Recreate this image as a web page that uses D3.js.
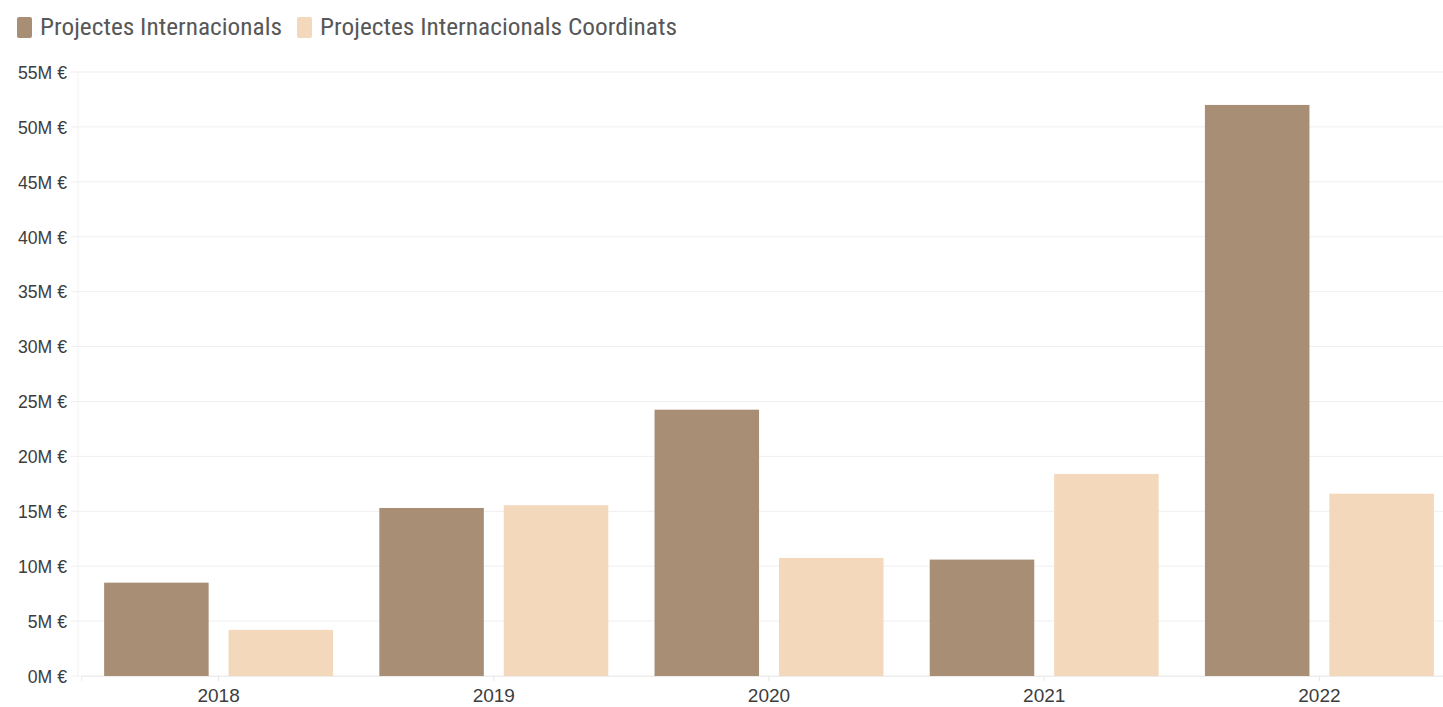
<!DOCTYPE html>
<html><head><meta charset="utf-8">
<script src="https://cdn.jsdelivr.net/npm/d3@7/dist/d3.min.js"></script>
<style>
html,body{margin:0;padding:0;background:#fff;}
svg{display:block;font-family:"Roboto Condensed",Roboto,"Liberation Sans Narrow",sans-serif;}
</style></head>
<body>
<svg id="chart" width="1443" height="707"></svg>
<script>
const years = ["2018","2019","2020","2021","2022"];
const seriesNames = ["Projectes Internacionals","Projectes Internacionals Coordinats"];
const internacionals = [8.5, 15.3, 24.25, 10.6, 52.0];
const coordinats = [4.2, 15.55, 10.75, 18.4, 16.6];
const yTicks = [0,5,10,15,20,25,30,35,40,45,50,55];
const colors = ["#a98e76","#f3d8bc"];

(function(){
const svg = d3.select("#chart");
const mLeft = 78, mRight = 1457, mTop = 72, mBottom = 676;

const x0 = d3.scaleBand().domain(years).range([mLeft+3, mRight]).paddingInner(0.168).paddingOuter(0.084);
const x1 = d3.scaleBand().domain([0,1]).range([0, x0.bandwidth()]).paddingInner(0.16);
const y = d3.scaleLinear().domain([0,55]).range([mBottom, mTop]);

function condense(sel, k){
  sel.each(function(){
    const w = this.getComputedTextLength();
    d3.select(this).attr("textLength", w*k).attr("lengthAdjust","spacingAndGlyphs");
  });
}

// gridlines
svg.append("g").selectAll("line").data(yTicks).join("line")
  .attr("x1", mLeft-7).attr("x2", 1443)
  .attr("y1", d=>y(d)).attr("y2", d=>y(d))
  .attr("stroke", "#efefef").attr("stroke-width", 1);
// faint vertical axis line
svg.append("line").attr("x1", mLeft).attr("x2", mLeft).attr("y1", mTop).attr("y2", mBottom)
  .attr("stroke", "#f2f2f2");

// y axis
const yAxis = svg.append("g").attr("transform", `translate(${mLeft},0)`)
  .call(d3.axisLeft(y).tickValues(yTicks).tickSize(0).tickPadding(11).tickFormat(d=>d+"M €"));
yAxis.select(".domain").remove();
yAxis.selectAll("text").attr("fill","#3d3d3d").style("font-size","19px").attr("dy","0.33em");
condense(yAxis.selectAll("text"), 0.93);

// bars
const data = years.map((yr,i)=>({year:yr, vals:[internacionals[i], coordinats[i]]}));
const groups = svg.append("g").selectAll("g").data(data).join("g")
  .attr("transform", d=>`translate(${x0(d.year)},0)`);
groups.selectAll("rect").data(d=>d.vals.map((v,k)=>({k,v}))).join("rect")
  .attr("x", d=>x1(d.k)).attr("width", x1.bandwidth())
  .attr("y", d=>y(d.v)).attr("height", d=>y(0)-y(d.v))
  .attr("fill", d=>colors[d.k]);

// x axis
const xAxis = svg.append("g").attr("transform", `translate(0,${mBottom})`)
  .call(d3.axisBottom(x0).tickSize(5).tickPadding(8));
xAxis.select(".domain").attr("stroke","#ececec");
xAxis.selectAll(".tick line").attr("stroke","#e6e6e6");
xAxis.selectAll("text").attr("fill","#3d3d3d").style("font-size","19px");

// legend
const legend = svg.append("g").attr("transform","translate(17,27)");
let lx = 0;
seriesNames.forEach((name,i)=>{
  const g = legend.append("g").attr("transform",`translate(${lx},0)`);
  g.append("rect").attr("x",0).attr("y",-10).attr("width",15).attr("height",21).attr("rx",2).attr("fill",colors[i]);
  const t = g.append("text").attr("x",23).attr("y",0).attr("dy","0.35em")
    .attr("fill","#575757").style("font-size","24px").text(name);
  const targetW = i===0 ? 242 : 357;
  t.attr("textLength", targetW).attr("lengthAdjust","spacingAndGlyphs");
  lx += 23 + targetW + 15;
});
})();
</script>
</body></html>
